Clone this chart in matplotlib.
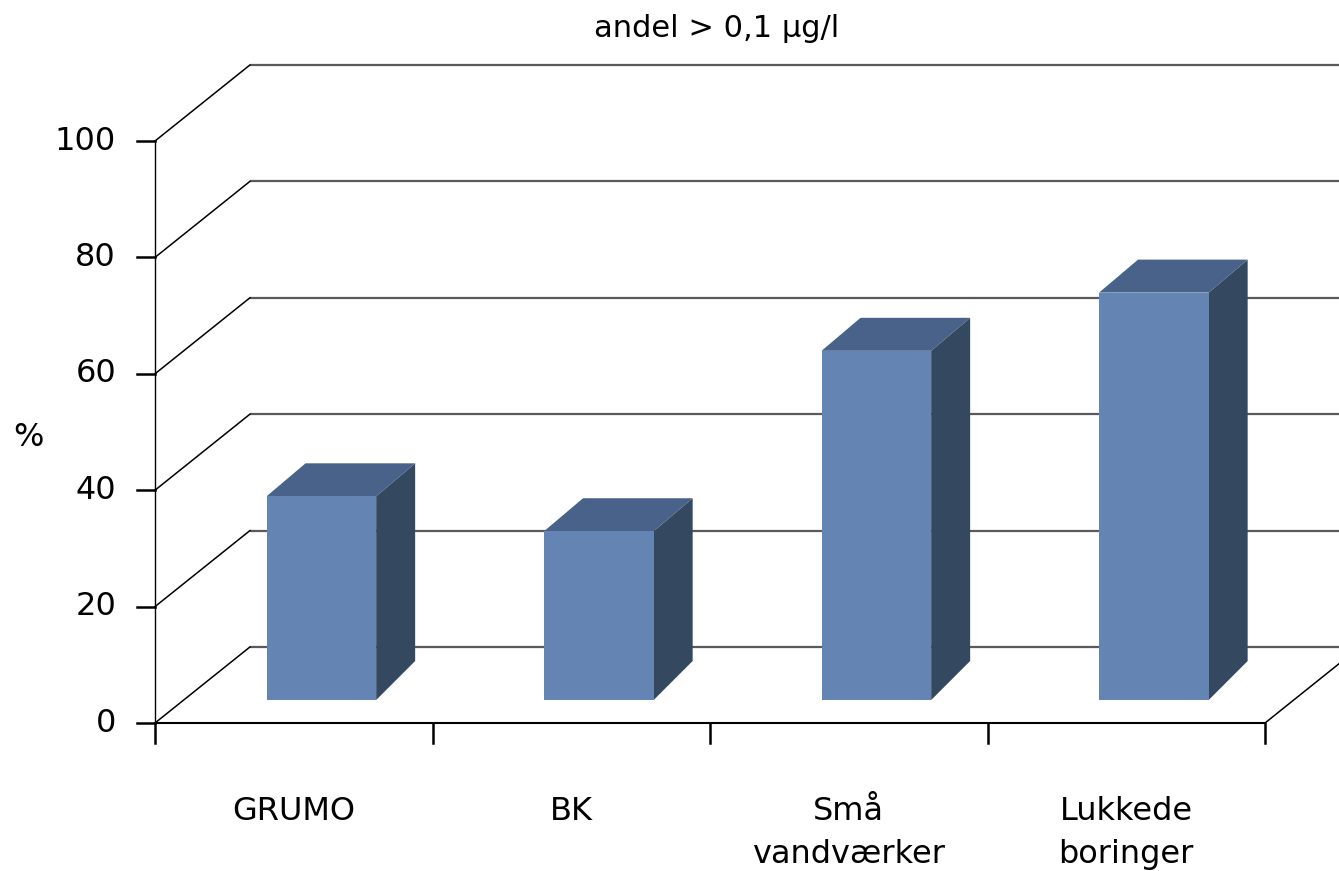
import matplotlib
matplotlib.use("Agg")
import matplotlib.pyplot as plt
from matplotlib.patches import Polygon

# Data
categories = ["GRUMO", "BK", "Små\nvandværker", "Lukkede\nboringer"]
values = [35, 29, 60, 70]
y_ticks = [0, 20, 40, 60, 80, 100]
title = "andel > 0,1 µg/l"
y_label = "%"

# Oblique projection of the 3D frame (data units)
WALL_DX, WALL_DY = 0.342, 13.06        # depth of walls / floor
BAR_DX = 0.1405                          # depth of bars in x
BAR_DY_TOP, BAR_DY_BOT = 5.67, 6.70     # depth of bars in y (top / bottom)
BAR_BASE = 3.95                          # bar front face starts above the floor edge
BAR_LEFT, BAR_RIGHT = 0.402, 0.797      # bar front face within a category slot

FRONT = "#6484B4"
TOP = "#48628A"
SIDE = "#344860"

W, H = 1339, 871
fig = plt.figure(figsize=(W / 100, H / 100), dpi=100)
ax = fig.add_axes([0, 0, 1, 1])
px_x, px_y = 277.5, 5.82
ax.set_xlim(-155 / px_x, (W - 155) / px_x)
ax.set_ylim((723 - H) / px_y, 723 / px_y)
ax.axis("off")

n = len(categories)
FS = 23

# Back wall gridlines and left wall diagonals
for v in y_ticks:
    ax.plot([WALL_DX, n + WALL_DX], [v + WALL_DY, v + WALL_DY],
            color="#5a5a5a", lw=1.6, solid_capstyle="butt", zorder=1)
    ax.plot([0, WALL_DX], [v, v + WALL_DY], color="black", lw=1.1, zorder=1)
    # y tick mark
    ax.plot([-18 / px_x, 0], [v, v], color="black", lw=1.8, zorder=2)
    ax.text(-39 / px_x, v, str(v), ha="right", va="center",
            fontsize=FS, color="black")

# Front vertical axis and floor
ax.plot([0, 0], [0, 100], color="black", lw=1.0, zorder=2)
ax.plot([0, n], [0, 0], color="black", lw=1.5, zorder=2)
ax.plot([n, n + WALL_DX], [0, WALL_DY], color="black", lw=1.1, zorder=1)
for i in range(n + 1):
    ax.plot([i, i], [0, -20 / px_y], color="black", lw=1.8, zorder=2)

# Bars
for i, v in enumerate(values):
    x0, x1 = i + BAR_LEFT, i + BAR_RIGHT
    y0, y1 = BAR_BASE, BAR_BASE + v
    front = [(x0, y0), (x1, y0), (x1, y1), (x0, y1)]
    top = [(x0, y1), (x1, y1), (x1 + BAR_DX, y1 + BAR_DY_TOP),
           (x0 + BAR_DX, y1 + BAR_DY_TOP)]
    side = [(x1, y0), (x1 + BAR_DX, y0 + BAR_DY_BOT),
            (x1 + BAR_DX, y1 + BAR_DY_TOP), (x1, y1)]
    ax.add_patch(Polygon(side, closed=True, facecolor=SIDE, edgecolor="none", zorder=3))
    ax.add_patch(Polygon(top, closed=True, facecolor=TOP, edgecolor="none", zorder=3))
    ax.add_patch(Polygon(front, closed=True, facecolor=FRONT, edgecolor="none", zorder=4))

# Category labels, one text per line
line_gap = 43 / px_y
for i, c in enumerate(categories):
    for k, line in enumerate(c.split("\n")):
        ax.text(i + 0.5, (723 - 820) / px_y - k * line_gap, line,
                ha="center", va="baseline", fontsize=FS, color="black")

fig.text(717 / W, 1 - 37 / H, title, ha="center", va="baseline",
         fontsize=22, color="black")
fig.text(28 / W, 1 - 437 / H, y_label, ha="center", va="center",
         fontsize=FS, color="black")

fig.savefig("out.png", dpi=100)
